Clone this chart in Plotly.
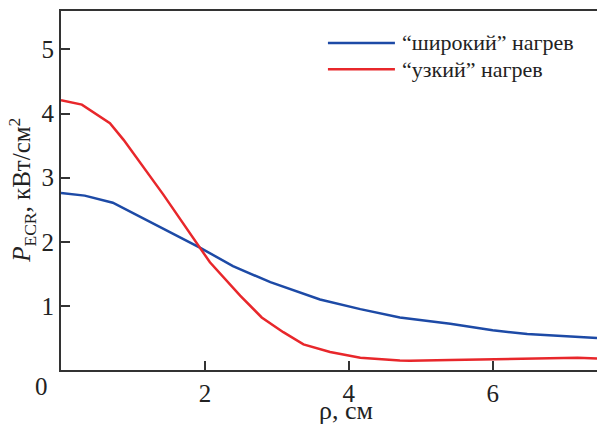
import plotly.graph_objects as go

# Radial profiles of ECR power density
rho_wide = [0.0, 0.33, 0.72, 1.34, 1.93, 2.39, 2.91, 3.60, 4.16, 4.71, 5.41, 6.0, 6.48, 7.45]
p_wide = [2.76, 2.72, 2.61, 2.25, 1.91, 1.62, 1.37, 1.10, 0.95, 0.82, 0.72, 0.62, 0.56, 0.50]

rho_narrow = [0.0, 0.29, 0.68, 0.87, 1.42, 1.93, 2.07, 2.49, 2.79, 3.09, 3.37, 3.74, 4.16, 4.71,
              4.85, 5.41, 6.0, 6.6, 7.18, 7.45]
p_narrow = [4.21, 4.14, 3.85, 3.59, 2.74, 1.91, 1.68, 1.16, 0.82, 0.59, 0.40, 0.28, 0.19, 0.15,
            0.145, 0.156, 0.17, 0.18, 0.19, 0.18]

names = ["“широкий” нагрев", "“узкий” нагрев"]
colors = ["#1d4aa6", "#e8272b"]

x_ticks = [2, 4, 6]
y_ticks = [1, 2, 3, 4, 5]

FONT = "Liberation Serif"

fig = go.Figure()
fig.add_trace(go.Scatter(x=rho_wide, y=p_wide, mode="lines", name=names[0],
                         line=dict(color=colors[0], width=2.5)))
fig.add_trace(go.Scatter(x=rho_narrow, y=p_narrow, mode="lines", name=names[1],
                         line=dict(color=colors[1], width=2.5)))

fig.update_layout(
    width=597, height=424,
    margin=dict(l=61, r=0, t=11, b=54),
    plot_bgcolor="white", paper_bgcolor="white",
    showlegend=False,
    font=dict(family=FONT, size=25, color="#222"),
)
axis_style = dict(showgrid=False, zeroline=False, showline=True, linecolor="#333", linewidth=2,
                  ticks="inside", ticklen=9, tickwidth=1.5, tickcolor="#333",
                  tickfont=dict(family=FONT, size=25, color="#222"))
fig.update_xaxes(range=[0, 7.45], tickmode="array", tickvals=x_ticks, mirror=True, **axis_style)
fig.update_yaxes(range=[0, 5.6], tickmode="array", tickvals=y_ticks, **axis_style)

# Legend drawn as line samples with labels
legend_y = [0.911, 0.838]
for name, color, ly in zip(names, colors, legend_y):
    fig.add_shape(type="line", xref="paper", yref="paper",
                  x0=0.498, x1=0.623, y0=ly, y1=ly,
                  line=dict(color=color, width=2.5))
    fig.add_annotation(xref="paper", yref="paper", x=0.632, y=ly, text=name,
                       showarrow=False, xanchor="left", yanchor="middle",
                       font=dict(family=FONT, size=22, color="#222"))

# Shared origin label
fig.add_annotation(xref="paper", yref="paper", x=-0.037, y=-0.047, text="0",
                   showarrow=False, xanchor="center", yanchor="middle",
                   font=dict(family=FONT, size=25, color="#222"))

# Axis titles
fig.add_annotation(xref="paper", yref="paper", x=0.532, y=-0.112, text="ρ, см",
                   showarrow=False, xanchor="center", yanchor="middle",
                   font=dict(family=FONT, size=26, color="#222"))
fig.add_annotation(xref="paper", yref="paper", x=-0.074, y=0.5,
                   text="<i>P</i><sub>ECR</sub>, кВт/см<sup>2</sup>",
                   showarrow=False, textangle=-90, xanchor="center", yanchor="middle",
                   font=dict(family=FONT, size=25, color="#222"))

fig.write_html("out.html")
